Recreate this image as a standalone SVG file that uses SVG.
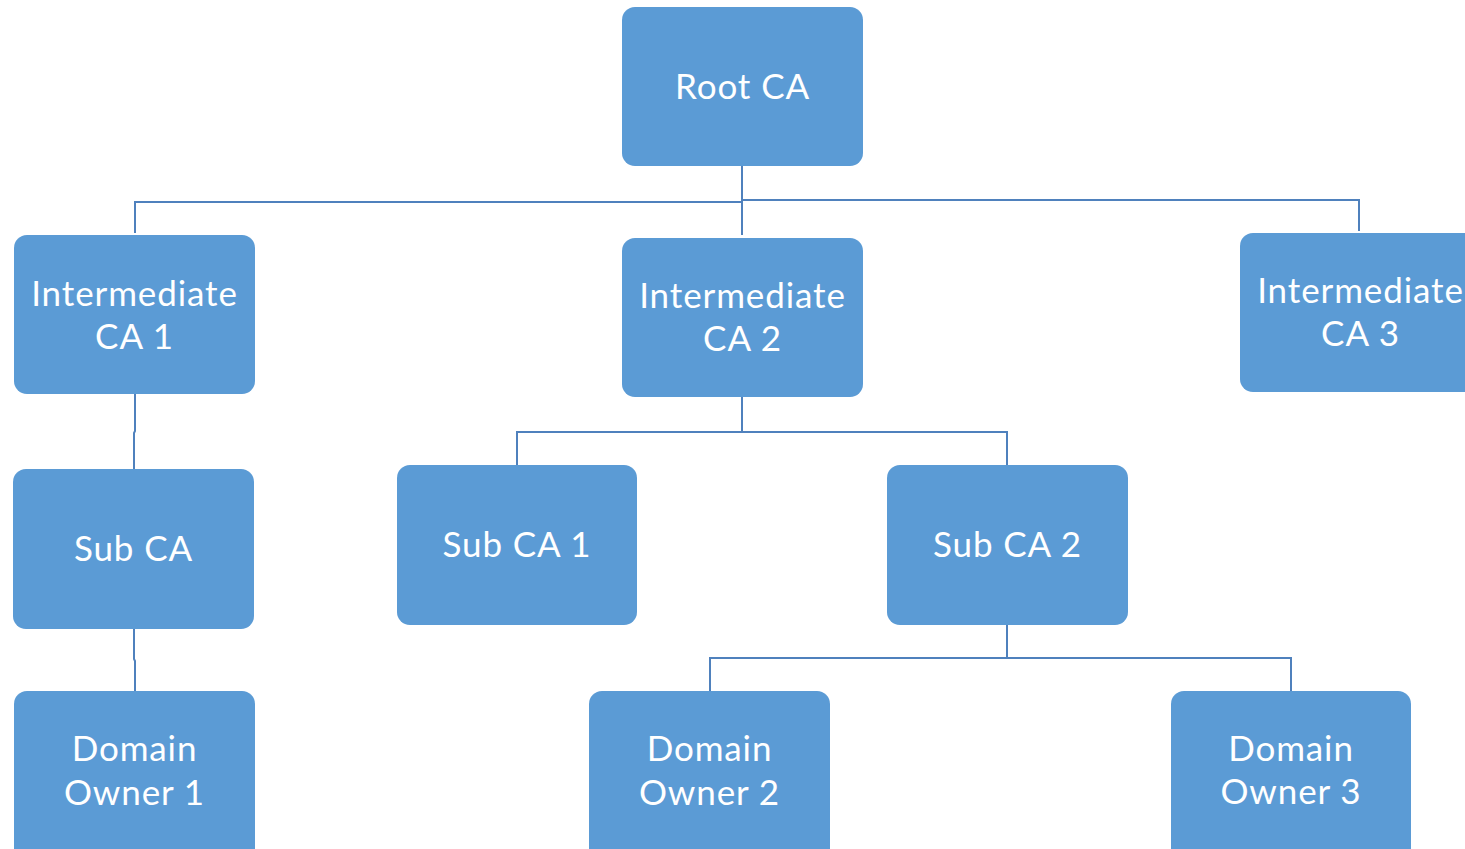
<svg xmlns="http://www.w3.org/2000/svg" width="1465" height="849" viewBox="0 0 1465 849">
  <style>
    .box { fill: #5b9bd5; }
    .lbl { fill: #ffffff; font-family: Lato, "Liberation Sans", sans-serif; font-size: 35px; letter-spacing: 0.9px; text-anchor: middle; dominant-baseline: central; }
    .wire { fill: none; stroke: #4f81bd; stroke-width: 2; }
  </style>
  <rect width="1465" height="849" fill="#ffffff"/>

  <g id="connectors">
    <polyline class="wire" points="742,166 742,235"/>
    <polyline class="wire" points="135,233 135,202 742,202"/>
    <polyline class="wire" points="742,200 1359,200 1359,231"/>
    <polyline class="wire" points="135,394 135,431 134,433 134,469"/>
    <polyline class="wire" points="742,397 742,432"/>
    <polyline class="wire" points="517,465 517,432 1007,432 1007,465"/>
    <polyline class="wire" points="134,629 134,659 135,661 135,691"/>
    <polyline class="wire" points="1007,625 1007,658"/>
    <polyline class="wire" points="710,691 710,658 1291,658 1291,691"/>
  </g>

  <g id="root-ca">
    <rect class="box" x="622" y="7" width="241" height="159" rx="13"/>
    <text class="lbl" x="742.5" y="85">Root CA</text>
  </g>
  <g id="intermediate-ca-1">
    <rect class="box" x="14" y="235" width="241" height="159" rx="13"/>
    <text class="lbl" x="134.5" y="292">Intermediate</text>
    <text class="lbl" x="134.5" y="335">CA 1</text>
  </g>
  <g id="intermediate-ca-2">
    <rect class="box" x="622" y="238" width="241" height="159" rx="13"/>
    <text class="lbl" x="742.5" y="294">Intermediate</text>
    <text class="lbl" x="742.5" y="337">CA 2</text>
  </g>
  <g id="intermediate-ca-3">
    <rect class="box" x="1240" y="233" width="241" height="159" rx="13"/>
    <text class="lbl" x="1360.5" y="289">Intermediate</text>
    <text class="lbl" x="1360.5" y="332">CA 3</text>
  </g>
  <g id="sub-ca">
    <rect class="box" x="13" y="469" width="241" height="160" rx="13"/>
    <text class="lbl" x="133.5" y="547">Sub CA</text>
  </g>
  <g id="sub-ca-1">
    <rect class="box" x="397" y="465" width="240" height="160" rx="13"/>
    <text class="lbl" x="517" y="543">Sub CA 1</text>
  </g>
  <g id="sub-ca-2">
    <rect class="box" x="887" y="465" width="241" height="160" rx="13"/>
    <text class="lbl" x="1007.5" y="543">Sub CA 2</text>
  </g>
  <g id="domain-owner-1">
    <rect class="box" x="14" y="691" width="241" height="175" rx="13"/>
    <text class="lbl" x="134.5" y="747">Domain</text>
    <text class="lbl" x="134.5" y="791">Owner 1</text>
  </g>
  <g id="domain-owner-2">
    <rect class="box" x="589" y="691" width="241" height="175" rx="13"/>
    <text class="lbl" x="709.5" y="747">Domain</text>
    <text class="lbl" x="709.5" y="791">Owner 2</text>
  </g>
  <g id="domain-owner-3">
    <rect class="box" x="1171" y="691" width="240" height="175" rx="13"/>
    <text class="lbl" x="1291" y="747">Domain</text>
    <text class="lbl" x="1291" y="790">Owner 3</text>
  </g>
</svg>
